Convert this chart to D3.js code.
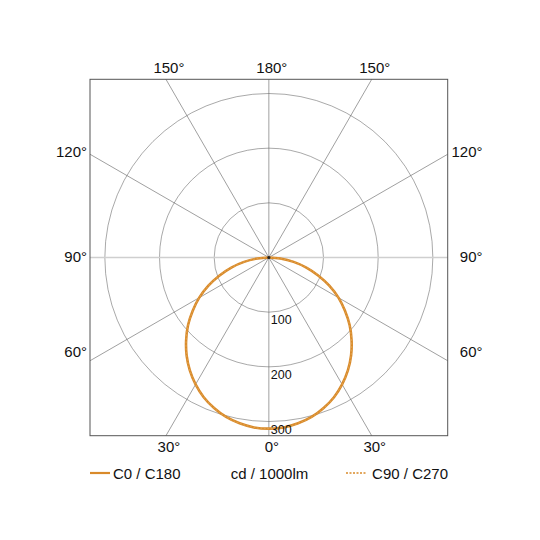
<!DOCTYPE html>
<html>
<head>
<meta charset="utf-8">
<script src="https://cdn.jsdelivr.net/npm/d3@7"></script>
<style>
  body { margin: 0; background: #fff; }
  text { font-family: "Liberation Sans", Arial, sans-serif; fill: #111; }
</style>
</head>
<body>
<div id="chart"></div>
<script>
// gamma angles (deg from nadir) and intensities in cd/1000lm
var gammaAngles = [0, 5, 10, 15, 20, 25, 30, 35, 40, 45, 50, 55, 60, 65, 70, 75, 80, 85, 90];
var c0Values  = [313, 312, 308, 302, 293, 282, 268, 252, 234, 214, 193, 170, 147, 122, 96, 71, 46, 21, 0];
var c90Values = [313, 312, 308, 302, 293, 282, 268, 252, 234, 214, 193, 170, 147, 122, 96, 71, 46, 21, 0];
var ringValues = [100, 200, 300];
var spokeAngles = [0, 30, 60, 90, 120, 150, 180];
var topLabels = [{a: 150, s: -1}, {a: 180, s: 0}, {a: 150, s: 1}];
var bottomLabels = [{a: 30, s: -1}, {a: 0, s: 0}, {a: 30, s: 1}];
var sideLabels = [120, 90, 60];
var unitLabel = "cd / 1000lm";
var legendC0 = "C0 / C180";
var legendC90 = "C90 / C270";

var orange = "#d98a2a";

var w = 540, h = 540;
var box = {x0: 90, y0: 79.3, x1: 447.7, y1: 435.7};
var cx = (box.x0 + box.x1) / 2;
var cy = (box.y0 + box.y1) / 2;

var rScale = d3.scaleLinear().domain([0, 300]).range([0, 164]);

var svg = d3.select("#chart").append("svg")
  .attr("width", w)
  .attr("height", h);

svg.append("clipPath").attr("id", "boxClip")
  .append("rect")
  .attr("x", box.x0).attr("y", box.y0)
  .attr("width", box.x1 - box.x0).attr("height", box.y1 - box.y0);

var grid = svg.append("g").attr("clip-path", "url(#boxClip)");

// rings
grid.selectAll("circle.ring")
  .data(ringValues)
  .enter()
  .append("circle")
  .attr("class", "ring")
  .attr("cx", cx).attr("cy", cy)
  .attr("r", function (d) { return rScale(d); })
  .attr("fill", "none")
  .attr("stroke", "#6f6f6f")
  .attr("stroke-width", 0.6);

// spokes, gamma measured from straight down, both sides
var spokes = [];
spokeAngles.forEach(function (a) {
  spokes.push(a);
  if (a != 0 && a != 180) spokes.push(-a);
});

grid.selectAll("line.spoke")
  .data(spokes)
  .enter()
  .append("line")
  .attr("class", "spoke")
  .attr("x1", cx).attr("y1", cy)
  .attr("x2", function (d) { return cx + 600 * Math.sin(d * Math.PI / 180); })
  .attr("y2", function (d) { return cy + 600 * Math.cos(d * Math.PI / 180); })
  .attr("stroke", function (d) { return Math.abs(d) == 90 ? "#cfcfcf" : "#5f5f5f"; })
  .attr("stroke-width", function (d) { return Math.abs(d) == 90 ? 1.6 : 0.6; });

// frame
svg.append("rect")
  .attr("x", box.x0).attr("y", box.y0)
  .attr("width", box.x1 - box.x0).attr("height", box.y1 - box.y0)
  .attr("fill", "none")
  .attr("stroke", "#555")
  .attr("stroke-width", 1);

// curves
function curvePoints(vals) {
  var pts = [];
  for (var i = gammaAngles.length - 1; i > 0; i--) {
    pts.push([Math.PI + gammaAngles[i] * Math.PI / 180, rScale(vals[i])]);
  }
  for (var j = 0; j < gammaAngles.length; j++) {
    pts.push([Math.PI - gammaAngles[j] * Math.PI / 180, rScale(vals[j])]);
  }
  return pts;
}

var radial = d3.lineRadial()
  .angle(function (d) { return d[0]; })
  .radius(function (d) { return d[1]; })
  .curve(d3.curveCardinal);

var curves = svg.append("g").attr("transform", "translate(" + cx + "," + cy + ")");

curves.append("path")
  .attr("d", radial(curvePoints(c0Values)))
  .attr("fill", "none")
  .attr("stroke", orange)
  .attr("stroke-width", 2.6);

curves.append("path")
  .attr("d", radial(curvePoints(c90Values)))
  .attr("fill", "none")
  .attr("stroke", "#e0a04a")
  .attr("stroke-width", 1.2)
  .attr("stroke-dasharray", "2,1.5");

svg.append("circle")
  .attr("cx", cx).attr("cy", cy).attr("r", 1.6)
  .attr("fill", "#222");

// ring labels
svg.selectAll("text.ringLabel")
  .data(ringValues)
  .enter()
  .append("text")
  .attr("class", "ringLabel")
  .attr("x", cx + 2)
  .attr("y", function (d) { return cy + rScale(d) + 12; })
  .style("font-size", "12.5px")
  .text(function (d) { return d; });

// angle labels on top / bottom
function edgeX(a, s, yEdge) {
  var dy = Math.abs(yEdge - cy);
  return cx + s * dy * Math.tan((a % 180 == 0 ? 0 : (a > 90 ? 180 - a : a)) * Math.PI / 180);
}

svg.selectAll("text.topLabel")
  .data(topLabels)
  .enter()
  .append("text")
  .attr("class", "topLabel")
  .attr("x", function (d) { return edgeX(d.a, d.s, box.y0) + 3; })
  .attr("y", 72.7)
  .attr("text-anchor", "middle")
  .style("font-size", "15px")
  .text(function (d) { return d.a + "°"; });

svg.selectAll("text.bottomLabel")
  .data(bottomLabels)
  .enter()
  .append("text")
  .attr("class", "bottomLabel")
  .attr("x", function (d) { return edgeX(d.a, d.s, box.y1) + 3; })
  .attr("y", 451.5)
  .attr("text-anchor", "middle")
  .style("font-size", "15px")
  .text(function (d) { return d.a + "°"; });

var sideY = {120: 157.3, 90: 261.7, 60: 356.7};

svg.selectAll("text.leftLabel")
  .data(sideLabels)
  .enter()
  .append("text")
  .attr("class", "leftLabel")
  .attr("x", 87)
  .attr("y", function (d) { return sideY[d]; })
  .attr("text-anchor", "end")
  .style("font-size", "15px")
  .text(function (d) { return d + "°"; });

svg.selectAll("text.rightLabel")
  .data(sideLabels)
  .enter()
  .append("text")
  .attr("class", "rightLabel")
  .attr("x", 482.5)
  .attr("y", function (d) { return sideY[d]; })
  .attr("text-anchor", "end")
  .style("font-size", "15px")
  .text(function (d) { return d + "°"; });

// legend
var legY = 478.5;
svg.append("line")
  .attr("x1", 90).attr("x2", 110)
  .attr("y1", legY - 5.5).attr("y2", legY - 5.5)
  .attr("stroke", orange).attr("stroke-width", 2.2);
svg.append("text")
  .attr("x", 113).attr("y", legY)
  .style("font-size", "15px")
  .text(legendC0);

svg.append("text")
  .attr("x", 269.5).attr("y", legY)
  .attr("text-anchor", "middle")
  .style("font-size", "15px")
  .text(unitLabel);

svg.append("line")
  .attr("x1", 346).attr("x2", 366)
  .attr("y1", legY - 5.5).attr("y2", legY - 5.5)
  .attr("stroke", orange).attr("stroke-width", 1.4)
  .attr("stroke-dasharray", "2,1.5");
svg.append("text")
  .attr("x", 448).attr("y", legY)
  .attr("text-anchor", "end")
  .style("font-size", "15px")
  .text(legendC90);
</script>
</body>
</html>
